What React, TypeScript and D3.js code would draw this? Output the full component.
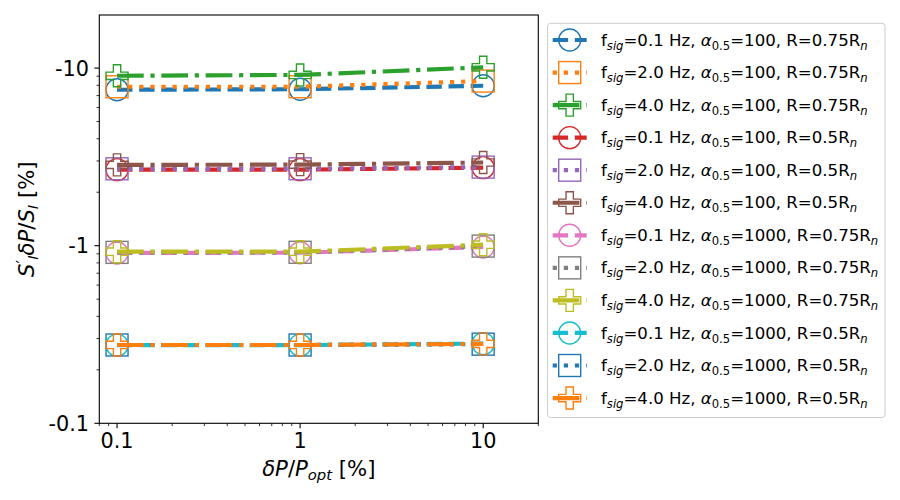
import React from "react";
import * as d3 from "d3";

const xValues = [0.1, 1, 10];

const s1 = [7.55, 7.6, 7.95];
const s2 = [7.85, 7.85, 8.45];
const s3 = [9.05, 9.15, 10.1];
const s4 = [2.68, 2.68, 2.75];
const s5 = [2.71, 2.71, 2.77];
const s6 = [2.85, 2.86, 2.94];
const s7 = [0.91, 0.913, 0.983];
const s8 = [0.917, 0.918, 0.995];
const s9 = [0.925, 0.925, 1.013];
const s10 = [0.2755, 0.2755, 0.281];
const s11 = [0.276, 0.276, 0.279];
const s12 = [0.276, 0.276, 0.28];

const seriesValues = [s1, s2, s3, s4, s5, s6, s7, s8, s9, s10, s11, s12];
const fsigLabels = ["0.1", "2.0", "4.0", "0.1", "2.0", "4.0", "0.1", "2.0", "4.0", "0.1", "2.0", "4.0"];
const alphaLabels = ["100", "100", "100", "100", "100", "100", "1000", "1000", "1000", "1000", "1000", "1000"];
const rLabels = ["0.75", "0.75", "0.75", "0.5", "0.5", "0.5", "0.75", "0.75", "0.75", "0.5", "0.5", "0.5"];
const colors = ["#1f77b4", "#ff7f0e", "#2ca02c", "#d62728", "#9467bd", "#8c564b", "#e377c2", "#7f7f7f", "#bcbd22", "#17becf", "#1f77b4", "#ff7f0e"];
const markerKinds = ["circle", "square", "plus"];
const dashKinds = ["15.4,6.7", "4.2,6.9", "26.7,6.7,4.2,6.7"];

const xTicks = [0.1, 1, 10];
const xTickLabels = ["0.1", "1", "10"];
const yTicks = [0.1, 1, 10];
const yTickLabels = ["-0.1", "-1", "-10"];

const W = 900;
const H = 500;
const left = 99.3;
const right = 538.3;
const top = 15;
const bottom = 423.3;

const x = d3.scaleLog().domain([0.08, 20]).range([left, right]);
const y = d3.scaleLog().domain([0.1, 19.9]).range([bottom, top]);

const MS = 22;
const LW = 4.17;
const FONT = "DejaVu Sans";

function Marker({ kind, cx, cy, color }: { kind: string; cx: number; cy: number; color: string }) {
  const h = MS / 2;
  if (kind === "circle") {
    return <circle cx={cx} cy={cy} r={h} fill="none" stroke={color} strokeWidth={1.4} />;
  }
  if (kind === "square") {
    return <rect x={cx - h} y={cy - h} width={MS} height={MS} fill="none" stroke={color} strokeWidth={1.4} />;
  }
  const a = MS / 6;
  const pts = [
    [-a, -3 * a], [a, -3 * a], [a, -a], [3 * a, -a], [3 * a, a], [a, a],
    [a, 3 * a], [-a, 3 * a], [-a, a], [-3 * a, a], [-3 * a, -a], [-a, -a],
  ].map(([px, py]) => `${cx + px},${cy + py}`).join(" ");
  return <polygon points={pts} fill="none" stroke={color} strokeWidth={1.4} strokeLinejoin="miter" />;
}

function minorTicks(lo: number, hi: number) {
  const out: number[] = [];
  for (let e = -2; e <= 2; e++) {
    for (let m = 2; m <= 9; m++) {
      const v = m * Math.pow(10, e);
      if (v >= lo * 0.9999 && v <= hi * 1.0001) out.push(v);
    }
  }
  return out;
}

export default function App() {
  const line = d3
    .line<number>()
    .x((_, i) => x(xValues[i]))
    .y((d) => y(d));

  const xMinor = minorTicks(0.08, 20);
  const yMinor = minorTicks(0.1, 19.9);

  const legX = 547.5;
  const legY = 23.3;
  const legW = 337.5;
  const legH = 394.2;
  const rowY0 = 40;
  const rowDy = 32.55;

  return (
    <svg width={W} height={H} style={{ position: "absolute", left: 0, top: 0, background: "#fff" }} fontFamily={FONT}>
      <rect x={0} y={0} width={W} height={H} fill="#fff" />
      {seriesValues.map((vals, si) => {
        const color = colors[si];
        const kind = markerKinds[si % 3];
        const dash = dashKinds[si % 3];
        return (
          <g key={si}>
            <path d={line(vals) || ""} fill="none" stroke={color} strokeWidth={LW} strokeDasharray={dash} strokeLinecap="butt" />
            {vals.map((v, i) => (
              <Marker key={i} kind={kind} cx={x(xValues[i])} cy={y(v)} color={color} />
            ))}
          </g>
        );
      })}
      <rect x={left} y={top} width={right - left} height={bottom - top} fill="none" stroke="#000" strokeWidth={1.1} />
      {xTicks.map((t, i) => (
        <g key={"xt" + i}>
          <line x1={x(t)} x2={x(t)} y1={bottom} y2={bottom + 4.9} stroke="#000" strokeWidth={1.1} />
          <text x={x(t)} y={448} fontSize={20.8} textAnchor="middle" fill="#000">{xTickLabels[i]}</text>
        </g>
      ))}
      {xMinor.map((t, i) => (
        <line key={"xm" + i} x1={x(t)} x2={x(t)} y1={bottom} y2={bottom + 2.8} stroke="#000" strokeWidth={0.8} />
      ))}
      {yTicks.map((t, i) => (
        <g key={"yt" + i}>
          <line x1={left - 4.9} x2={left} y1={y(t)} y2={y(t)} stroke="#000" strokeWidth={1.1} />
          <text x={89} y={y(t) + 7.5} fontSize={20.8} textAnchor="end" fill="#000">{yTickLabels[i]}</text>
        </g>
      ))}
      {yMinor.map((t, i) => (
        <line key={"ym" + i} x1={left - 2.8} x2={left} y1={y(t)} y2={y(t)} stroke="#000" strokeWidth={0.8} />
      ))}
      <text x={(left + right) / 2} y={476} fontSize={21.2} textAnchor="middle" fill="#000">
        <tspan fontStyle="italic">δP</tspan>
        <tspan>/</tspan>
        <tspan fontStyle="italic">P</tspan>
        <tspan fontStyle="italic" fontSize={14.8} dy={4}>opt</tspan>
        <tspan dy={-4}> [%]</tspan>
      </text>
      <text transform={`translate(34,${(top + bottom) / 2}) rotate(-90)`} fontSize={21.2} textAnchor="middle" fill="#000">
        <tspan fontStyle="italic">S</tspan>
        <tspan fontSize={16} dy={-6}>′</tspan>
        <tspan fontStyle="italic" fontSize={14.8} dy={10}>I</tspan>
        <tspan fontStyle="italic" dy={-4}>δP</tspan>
        <tspan>/</tspan>
        <tspan fontStyle="italic">S</tspan>
        <tspan fontStyle="italic" fontSize={14.8} dy={4}>I</tspan>
        <tspan dy={-4}> [%]</tspan>
      </text>
      <rect x={legX} y={legY} width={legW} height={legH} rx={3} ry={3} fill="#fff" fillOpacity={0.8} stroke="#cccccc" strokeWidth={1} />
      {seriesValues.map((_, si) => {
        const cy = rowY0 + si * rowDy;
        const color = colors[si];
        const kind = markerKinds[si % 3];
        const dash = dashKinds[si % 3];
        return (
          <g key={"lg" + si}>
            <line x1={552.7} x2={586.7} y1={cy} y2={cy} stroke={color} strokeWidth={LW} strokeDasharray={dash} />
            <Marker kind={kind} cx={569.7} cy={cy} color={color} />
            <text x={601} y={cy + 5.6} fontSize={16.6} fill="#000">
              <tspan>f</tspan>
              <tspan fontStyle="italic" fontSize={11.6} dy={4}>sig</tspan>
              <tspan dy={-4}>{`=${fsigLabels[si]} Hz, `}</tspan>
              <tspan fontStyle="italic">α</tspan>
              <tspan fontSize={11.6} dy={4}>0.5</tspan>
              <tspan dy={-4}>{`=${alphaLabels[si]}, R=${rLabels[si]}R`}</tspan>
              <tspan fontStyle="italic" fontSize={11.6} dy={4}>n</tspan>
            </text>
          </g>
        );
      })}
    </svg>
  );
}
